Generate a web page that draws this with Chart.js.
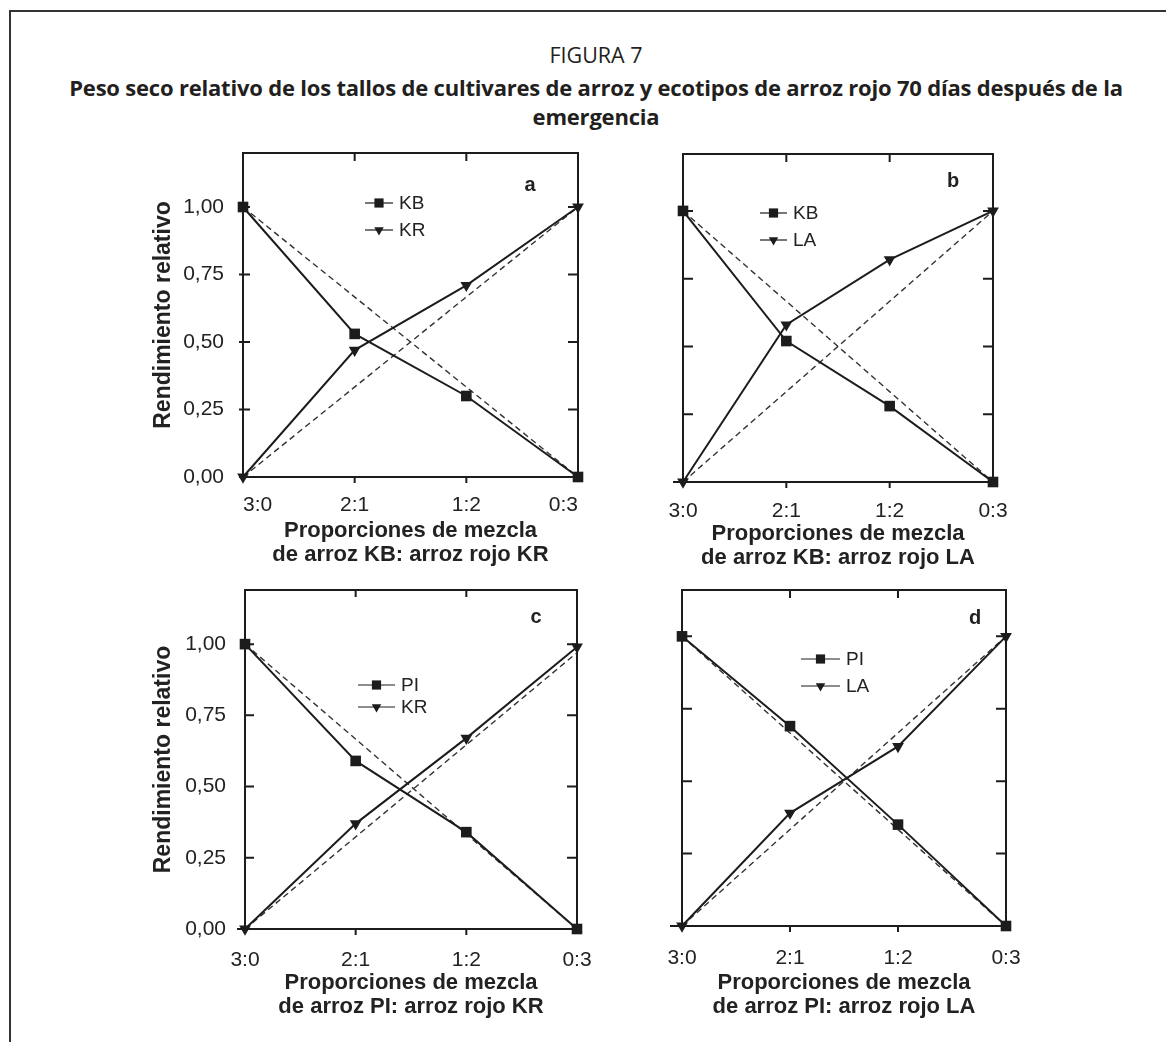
<!DOCTYPE html>
<html lang="es">
<head>
<meta charset="utf-8">
<title>Figura 7</title>
<script src="https://cdn.jsdelivr.net/npm/chart.js@4.4.1/dist/chart.umd.min.js"></script>
<style>
  html, body { margin: 0; padding: 0; background: #fff; }
  body { width: 1166px; height: 1042px; position: relative; overflow: hidden; }
  #frame { position: absolute; left: 9px; top: 10px; width: 1200px; height: 1100px;
           border-top: 2px solid #333; border-left: 2px solid #333; }
  .fig-title { position: absolute; left: 9px; width: 1174px; text-align: center;
               color: #231f20; font-family: "Open Sans", sans-serif; white-space: nowrap; }
  #fig-num { top: 40px; font-size: 21.5px; line-height: 29px; }
  #fig-caption { top: 73px; font-size: 22px; font-weight: bold; line-height: 29px; letter-spacing: -0.2px; }
  canvas { position: absolute; }
</style>
</head>
<body>
<div id="frame"></div>
<div id="fig-num" class="fig-title">FIGURA 7</div>
<div id="fig-caption" class="fig-title">Peso seco relativo de los tallos de cultivares de arroz y ecotipos de arroz rojo 70 días después de la<br>emergencia</div>

<script>
// --- data ---
const categories = ["3:0", "2:1", "1:2", "0:3"];
const yTickValues = [0, 0.25, 0.5, 0.75, 1];
const yTickLabels = ["0,00", "0,25", "0,50", "0,75", "1,00"];

// panel a: KB vs red rice KR
const aKB = [1.0, 0.53, 0.30, 0.0];
const aKR = [0.0, 0.47, 0.71, 1.0];
// panel b: KB vs red rice LA
const bKB = [1.0, 0.52, 0.28, 0.0];
const bLA = [0.0, 0.58, 0.82, 1.0];
// panel c: PI vs red rice KR
const cPI = [1.0, 0.59, 0.34, 0.0];
const cKR = [0.0, 0.37, 0.67, 0.99];
// panel d: PI vs red rice LA
const dPI = [1.0, 0.69, 0.35, 0.0];
const dLA = [0.0, 0.39, 0.62, 1.0];

// dashed expected (replacement) lines, only end points
const expDown = [1, null, null, 0];
const expUp = [0, null, null, 1];
const expUpC = [0, null, null, 0.97];

const ink = "#1c1c1c";
const textColor = "#222";
const font = "'Liberation Sans', Arial, sans-serif";

function drawMarker(ctx, style, x, y, r) {
  ctx.beginPath();
  if (style === "rect") {
    const s = r * Math.SQRT1_2;
    ctx.rect(x - s, y - s, 2 * s, 2 * s);
  } else {
    ctx.moveTo(x - r * 0.866, y - r * 0.5);
    ctx.lineTo(x + r * 0.866, y - r * 0.5);
    ctx.lineTo(x, y + r);
    ctx.closePath();
  }
  ctx.fill();
}

const panelFrame = {
  id: "panelFrame",
  beforeDatasetsDraw(chart, args, opts) {
    const { ctx, chartArea: a, scales: { x, y } } = chart;
    const t = opts.ticks;
    ctx.save();
    ctx.strokeStyle = ink;
    ctx.lineWidth = 2;
    ctx.strokeRect(a.left, a.top, a.right - a.left, a.bottom - a.top);
    ctx.beginPath();
    yTickValues.forEach((v) => {
      const py = y.getPixelForValue(v);
      if (v > 0) {
        ctx.moveTo(a.left - t.leftOut, py);
        ctx.lineTo(a.left + t.leftIn, py);
        ctx.moveTo(a.right - t.rightIn, py);
        ctx.lineTo(a.right, py);
      } else {
        ctx.moveTo(a.left - t.stub, py);
        ctx.lineTo(a.left, py);
      }
    });
    categories.forEach((c, i) => {
      if (i === 0 || i === categories.length - 1) return;
      const px = x.getPixelForValue(i);
      ctx.moveTo(px, a.top);
      ctx.lineTo(px, a.top + t.topIn);
      ctx.moveTo(px, a.bottom);
      ctx.lineTo(px, a.bottom + t.bottomOut);
    });
    ctx.stroke();
    ctx.restore();
  },
  afterDatasetsDraw(chart, args, opts) {
    const { ctx, chartArea: a } = chart;
    const lg = opts.legend;
    ctx.save();
    // legend inside the plot
    chart.data.datasets
      .filter((ds) => ds.label)
      .forEach((ds, i) => {
        const ly = a.top + lg.dy + i * lg.gap;
        const lx = a.left + lg.dx;
        ctx.strokeStyle = ink;
        ctx.lineWidth = 1.2;
        ctx.beginPath();
        ctx.moveTo(lx, ly);
        ctx.lineTo(lx + lg.len, ly);
        ctx.stroke();
        ctx.fillStyle = ink;
        drawMarker(ctx, ds.pointStyle, lx + lg.len / 2, ly, ds.pointStyle === "rect" ? 6.5 : 5.5);
        ctx.fillStyle = textColor;
        ctx.font = `19px ${font}`;
        ctx.textAlign = "left";
        ctx.textBaseline = "middle";
        ctx.fillText(ds.label, lx + lg.len + 6, ly + 1);
      });
    // panel letter
    ctx.fillStyle = textColor;
    ctx.font = `bold 20px ${font}`;
    ctx.textAlign = "center";
    ctx.textBaseline = "middle";
    ctx.fillText(opts.letter.text, a.left + opts.letter.dx, a.top + opts.letter.dy);
    ctx.restore();
  },
};

function seriesDataset(label, data, style) {
  return {
    label: label,
    data: data,
    borderColor: ink,
    backgroundColor: ink,
    borderWidth: 2,
    pointStyle: style,
    pointRotation: style === "triangle" ? 180 : 0,
    pointRadius: style === "rect" ? 7.5 : 6.8,
    pointBackgroundColor: ink,
    pointBorderWidth: 0,
    tension: 0,
    clip: false,
  };
}

function dashedDataset(data) {
  return {
    label: "",
    data: data,
    borderColor: "#333",
    borderWidth: 1.4,
    borderDash: [6, 4],
    pointRadius: 0,
    spanGaps: true,
    tension: 0,
  };
}

const panels = [
  {
    box: [130, 140, 470, 440], yAxisW: 113, padTop: 13, padRight: 22, xAxisH: 103,
    yMax: 1.2, showY: true, xTickPad: 7.5, xTitlePad: 13, tickAlign: "inner",
    xTitle: ["Proporciones de mezcla", "de arroz KB: arroz rojo KR"],
    datasets: [seriesDataset("KB", aKB, "rect"), seriesDataset("KR", aKR, "triangle"),
               dashedDataset(expDown), dashedDataset(expUp)],
    legend: { dx: 122, dy: 50, gap: 27, len: 28 },
    letter: { text: "a", dx: 287, dy: 32 },
    ticks: { leftIn: 7, leftOut: 4, stub: 4, rightIn: 10, topIn: 8, bottomOut: 6 },
  },
  {
    box: [580, 140, 440, 440], yAxisW: 103, padTop: 14, padRight: 27, xAxisH: 98,
    yMax: 1.21, showY: false, xTickPad: 9, xTitlePad: 9.5, tickAlign: "center",
    xTitle: ["Proporciones de mezcla", "de arroz KB: arroz rojo LA"],
    datasets: [seriesDataset("KB", bKB, "rect"), seriesDataset("LA", bLA, "triangle"),
               dashedDataset(expDown), dashedDataset(expUp)],
    legend: { dx: 77, dy: 59, gap: 27, len: 27 },
    letter: { text: "b", dx: 270, dy: 27 },
    ticks: { leftIn: 10, leftOut: 0, stub: 10, rightIn: 10, topIn: 8, bottomOut: 6 },
  },
  {
    box: [130, 575, 470, 467], yAxisW: 115, padTop: 15, padRight: 23, xAxisH: 113,
    yMax: 1.19, showY: true, xTickPad: 11, xTitlePad: 23, tickAlign: "center",
    xTitle: ["Proporciones de mezcla", "de arroz PI: arroz rojo KR"],
    datasets: [seriesDataset("PI", cPI, "rect"), seriesDataset("KR", cKR, "triangle"),
               dashedDataset(expDown), dashedDataset(expUpC)],
    legend: { dx: 113, dy: 95, gap: 22, len: 37 },
    letter: { text: "c", dx: 291, dy: 27 },
    ticks: { leftIn: 9, leftOut: 0, stub: 8, rightIn: 10, topIn: 7, bottomOut: 6 },
  },
  {
    box: [580, 575, 440, 467], yAxisW: 102, padTop: 15, padRight: 14, xAxisH: 116,
    yMax: 1.16, showY: false, xTickPad: 12, xTitlePad: 23, tickAlign: "center",
    xTitle: ["Proporciones de mezcla", "de arroz PI: arroz rojo LA"],
    datasets: [seriesDataset("PI", dPI, "rect"), seriesDataset("LA", dLA, "triangle"),
               dashedDataset(expDown), dashedDataset(expUp)],
    legend: { dx: 119, dy: 69, gap: 27, len: 39 },
    letter: { text: "d", dx: 293, dy: 28 },
    ticks: { leftIn: 10, leftOut: 0, stub: 12, rightIn: 10, topIn: 8, bottomOut: 6 },
  },
];

function createPanel(p) {
  const canvas = document.createElement("canvas");
  const [left, top, w, h] = p.box;
  canvas.width = w;
  canvas.height = h;
  canvas.style.left = left + "px";
  canvas.style.top = top + "px";
  canvas.style.width = w + "px";
  canvas.style.height = h + "px";
  document.body.appendChild(canvas);

  return new Chart(canvas.getContext("2d"), {
    type: "line",
    data: { labels: categories, datasets: p.datasets },
    options: {
      responsive: false,
      animation: false,
      devicePixelRatio: 1,
      layout: { padding: { top: p.padTop, right: p.padRight, left: 0, bottom: 0 } },
      scales: {
        x: {
          offset: false,
          grid: { display: false },
          border: { display: false },
          ticks: {
            color: textColor,
            font: { family: font, size: 21 },
            padding: p.xTickPad,
            align: p.tickAlign,
            maxRotation: 0,
            autoSkip: false,
          },
          title: {
            display: true,
            text: p.xTitle,
            color: textColor,
            font: { family: font, size: 22, weight: "bold", lineHeight: 1.1 },
            padding: { top: 0, bottom: p.xTitlePad },
          },
          afterFit(s) {
            s.height = p.xAxisH;
            s.paddingLeft = 0;
            s.paddingRight = 0;
          },
        },
        y: {
          min: 0,
          max: p.yMax,
          grid: { display: false },
          border: { display: false },
          afterBuildTicks(s) {
            s.ticks = yTickValues.map((v) => ({ value: v }));
          },
          ticks: {
            display: p.showY,
            color: textColor,
            font: { family: font, size: 21 },
            padding: 11,
            callback: (v, i) => yTickLabels[i],
          },
          title: {
            display: p.showY,
            text: "Rendimiento relativo",
            color: textColor,
            font: { family: font, size: 23, weight: "bold", lineHeight: 1 },
            padding: { top: 22.5, bottom: 0 },
          },
          afterFit(s) {
            s.width = p.yAxisW;
            s.paddingTop = 0;
            s.paddingBottom = 0;
          },
        },
      },
      plugins: {
        legend: { display: false },
        tooltip: { enabled: false },
        panelFrame: { legend: p.legend, letter: p.letter, ticks: p.ticks },
      },
    },
    plugins: [panelFrame],
  });
}

panels.forEach(createPanel);
</script>
</body>
</html>
